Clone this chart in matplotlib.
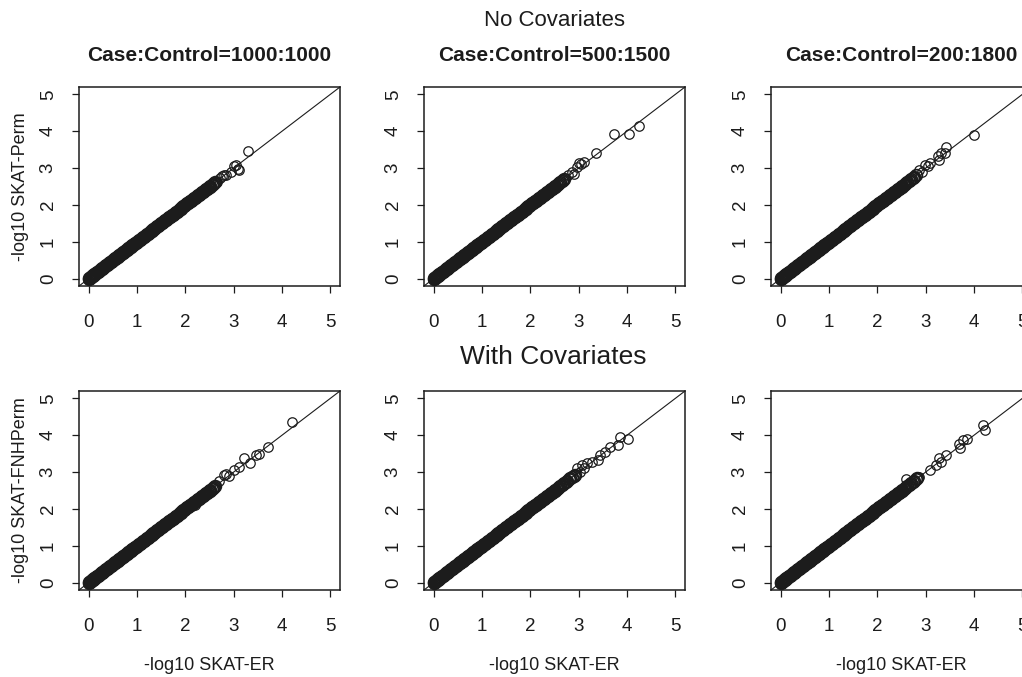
import matplotlib
matplotlib.use("Agg")
import matplotlib.pyplot as plt

plt.rcParams['font.family'] = ['Liberation Sans', 'DejaVu Sans']

# ---------------- data ----------------
# dense part of the scatter (points lie on the identity line)
band_er = [0.00,0.01,0.02,0.03,0.04,0.05,0.06,0.07,0.08,0.09,0.10,0.12,0.13,0.15,0.16,0.18,0.19,
           0.21,0.22,0.24,0.25,0.27,0.28,0.30,0.31,0.33,0.34,0.36,0.37,0.39,0.40,0.42,0.43,0.45,
           0.46,0.48,0.49,0.51,0.52,0.54,0.55,0.57,0.58,0.60,0.61,0.63,0.64,0.66,0.67,0.69,0.70,
           0.72,0.73,0.75,0.76,0.78,0.79,0.81,0.82,0.84,0.85,0.87,0.88,0.90,0.91,0.93,0.94,0.96,
           0.97,0.99,1.00,1.02,1.04,1.06,1.08,1.10,1.12,1.14,1.16,1.18,1.20,1.22,1.24,1.26,1.28,
           1.30,1.32,1.34,1.36,1.38,1.40,1.42,1.44,1.46,1.48,1.50,1.52,1.54,1.56,1.58,1.60,1.62,
           1.64,1.66,1.68,1.70,1.72,1.74,1.76,1.78,1.80,1.82,1.84,1.86,1.88,1.90,1.92,1.94,1.96,
           1.98,2.00,2.02,2.04,2.06,2.08,2.10,2.12,2.14,2.16,2.18,2.20,2.22,2.24,2.26,2.28,2.30,
           2.32,2.34,2.36,2.38,2.40,2.42,2.44,2.46,2.48,2.50,2.52,2.55,2.57,2.60,2.62,2.65,2.68,
           2.70,2.73,2.76,2.80,2.83,2.86,2.90,2.93,2.96]
band_perm = list(band_er)

# upper end of the dense band in each panel (row-major order)
band_max = [2.62, 2.70, 2.80, 2.62, 2.95, 2.85]

# sparse tail points: (-log10 SKAT-ER, -log10 permutation p)
tail_er = [
    [2.66, 2.72, 2.75, 2.80, 2.85, 2.95, 3.00, 3.05, 3.08, 3.12, 3.30],
    [2.78, 2.86, 2.90, 2.96, 3.00, 3.05, 3.12, 3.35, 3.73, 4.05, 4.25],
    [2.87, 2.92, 2.99, 3.05, 3.08, 3.25, 3.28, 3.32, 3.39, 3.42, 3.99],
    [2.20, 2.70, 2.81, 2.85, 2.90, 3.01, 3.12, 3.22, 3.33, 3.46, 3.53, 3.72, 4.21],
    [2.96, 3.02, 3.06, 3.10, 3.17, 3.27, 3.41, 3.44, 3.55, 3.65, 3.82, 3.86, 4.03],
    [2.60, 2.87, 3.08, 3.22, 3.28, 3.32, 3.42, 3.69, 3.70, 3.77, 3.86, 4.18, 4.22],
]
tail_perm = [
    [2.62, 2.72, 2.78, 2.80, 2.82, 2.90, 3.05, 3.08, 2.98, 2.95, 3.47],
    [2.80, 2.90, 2.85, 3.04, 3.13, 3.10, 3.17, 3.40, 3.92, 3.92, 4.14],
    [2.95, 2.90, 3.08, 3.05, 3.13, 3.32, 3.22, 3.40, 3.40, 3.58, 3.89],
    [2.10, 2.75, 2.92, 2.95, 2.90, 3.05, 3.15, 3.37, 3.24, 3.46, 3.50, 3.68, 4.36],
    [3.10, 3.00, 3.19, 3.10, 3.24, 3.28, 3.32, 3.46, 3.55, 3.68, 3.73, 3.95, 3.91],
    [2.80, 2.87, 3.05, 3.19, 3.37, 3.28, 3.46, 3.75, 3.66, 3.86, 3.91, 4.27, 4.14],
]

col_titles = ["Case:Control=1000:1000", "Case:Control=500:1500", "Case:Control=200:1800"]
row_titles = ["No Covariates", "With Covariates"]
y_labels = ["-log10 SKAT-Perm", "-log10 SKAT-FNHPerm"]
x_label = "-log10 SKAT-ER"
ticks = [0, 1, 2, 3, 4, 5]
lims = (-0.2, 5.2)

# ---------------- figure ----------------
W, H = 1022, 677
fig = plt.figure(figsize=(W / 100, H / 100), dpi=100)
ink = "#1c1c1c"

col_left = [79, 424, 771]
row_top = [87, 391]
pw, ph = 261, 199

for r in range(2):
    for c in range(3):
        i = r * 3 + c
        ax = fig.add_axes([col_left[c] / W, 1 - (row_top[r] + ph) / H, pw / W, ph / H])
        ax.set_xlim(*lims)
        ax.set_ylim(*lims)
        bx = [v for v in band_er if v <= band_max[i]]
        by = [v for v, e in zip(band_perm, band_er) if e <= band_max[i]]
        ax.plot(bx, by, linestyle="none", marker="o", mfc="none", mec=ink, ms=8.4, mew=1.3)
        ax.plot(tail_er[i], tail_perm[i], linestyle="none", marker="o", mfc="none", mec=ink,
                ms=6.8, mew=0.9)
        ax.axline((0, 0), slope=1, color=ink, lw=0.8)
        ax.set_xticks(ticks)
        ax.set_yticks(ticks)
        ax.tick_params(direction="out", length=5, width=0.9, colors=ink, labelsize=13.5)
        ax.tick_params(axis="x", pad=15)
        ax.tick_params(axis="y", pad=11)
        for lab in ax.get_yticklabels():
            lab.set_rotation(90)
            lab.set_va("center")
        for sp in ax.spines.values():
            sp.set_linewidth(1.1)
            sp.set_color(ink)
        if r == 0:
            ax.set_title(col_titles[c], fontsize=15, fontweight="bold", color=ink, pad=19)
        if c == 0:
            ax.set_ylabel(y_labels[r], fontsize=13, color=ink, labelpad=8)
        if r == 1:
            ax.set_xlabel(x_label, fontsize=13, color=ink, labelpad=16)

fig.text(554 / W, 1 - 21 / H, row_titles[0], ha="center", va="center", fontsize=16, color=ink)
fig.text(553 / W, 1 - 357 / H, row_titles[1], ha="center", va="center", fontsize=19, color=ink)

fig.savefig("out.png", dpi=100, facecolor="white")
